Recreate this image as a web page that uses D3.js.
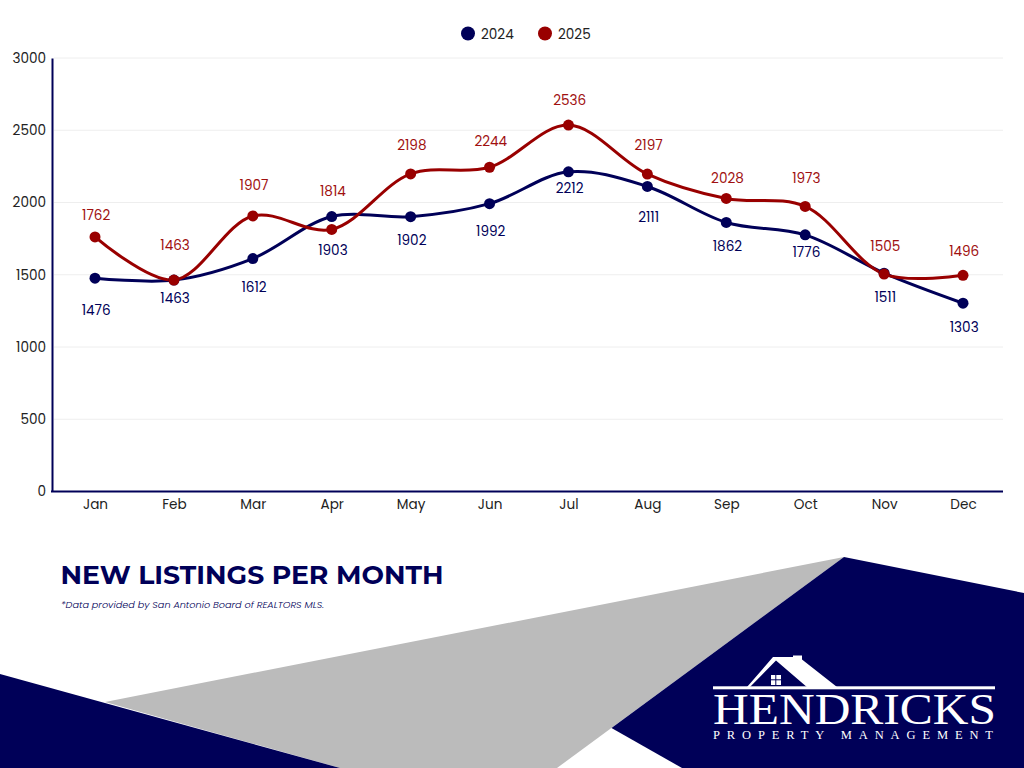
<!DOCTYPE html>
<html><head><meta charset="utf-8">
<script src="https://cdn.jsdelivr.net/npm/d3@7"></script>
<style>html,body{margin:0;padding:0;background:#fff}svg{display:block}</style></head>
<body><svg id="c" width="1024" height="768"></svg>
<script>
const months=["Jan","Feb","Mar","Apr","May","Jun","Jul","Aug","Sep","Oct","Nov","Dec"];
const values2024=[1476,1463,1612,1903,1902,1992,2212,2111,1862,1776,1511,1303];
const values2025=[1762,1463,1907,1814,2198,2244,2536,2197,2028,1973,1505,1496];
const labelOffset2024=[32,18,28,33,23,27,16,30,23,17,24,24];
const labelOffset2025=[22,35,31,39,29,27,25,29,21,29,28,25];
const yTicks=[0,500,1000,1500,2000,2500,3000];
const navy="#000058",red="#990000",gray="#bbbbbb";
const body="Poppins, Inter, sans-serif";
const svg=d3.select("#c");

const shape=(pts,fill)=>svg.append("polygon").attr("points",pts.map(p=>p.join(",")).join(" ")).attr("fill",fill);
shape([[105,702],[844,557],[557,768],[340,768]],gray);
shape([[0,674],[340,768],[0,768]],navy);
shape([[844,557],[1024,593],[1024,768],[682,768],[611.5,728]],navy);

const x=d3.scalePoint().domain(months).range([95,963]);
const y=d3.scaleLinear().domain([0,3000]).range([491.5,58]);

svg.append("g").selectAll("line").data(yTicks.slice(1)).join("line")
 .attr("x1",54).attr("x2",1003).attr("y1",d=>y(d)).attr("y2",d=>y(d))
 .attr("stroke","#eeeeee").attr("stroke-width",1);

const ay=svg.append("g").attr("transform","translate(52,0)")
 .call(d3.axisLeft(y).tickValues(yTicks).tickSize(0).tickPadding(6).tickFormat(d3.format("d")));
ay.select(".domain").attr("stroke",navy).attr("stroke-width",2);
ay.selectAll("text").attr("font-family",body).attr("font-size",13.6).attr("fill","#222");
const ax=svg.append("g").attr("transform","translate(0,491.5)")
 .call(d3.axisBottom(x).tickSize(0).tickPadding(7.5));
ax.select(".domain").attr("d","M51,0H1003").attr("stroke",navy).attr("stroke-width",2);
ax.selectAll("text").attr("font-family",body).attr("font-size",13.6).attr("fill","#222");

const line=d3.line().x((d,i)=>x(months[i])).y(d=>y(d)).curve(d3.curveCatmullRom.alpha(0.5));
const series=[
 {v:values2024,c:navy,o:labelOffset2024,s:1},
 {v:values2025,c:red,o:labelOffset2025,s:-1}];
series.forEach(S=>{
 svg.append("path").attr("d",line(S.v)).attr("fill","none").attr("stroke",S.c).attr("stroke-width",3);
});
series.forEach(S=>{
 svg.append("g").selectAll("circle").data(S.v).join("circle")
  .attr("cx",(d,i)=>x(months[i])).attr("cy",d=>y(d)).attr("r",5.5).attr("fill",S.c);
 svg.append("g").selectAll("text").data(S.v).join("text")
  .attr("x",(d,i)=>x(months[i])+1.2).attr("y",(d,i)=>y(d)+S.s*S.o[i]+0.5)
  .attr("dy","0.35em").attr("text-anchor","middle")
  .attr("font-family",body).attr("font-size",13.6).attr("fill",S.c==red?"#a01010":navy).text(d=>d);
});

[["2024",navy,468],["2025",red,545]].forEach(([t,c,cx])=>{
 svg.append("circle").attr("cx",cx).attr("cy",33.5).attr("r",7).attr("fill",c);
 svg.append("text").attr("x",cx+13).attr("y",34.3).attr("dy","0.35em").attr("font-family",body).attr("font-size",13.6).attr("fill","#222").text(t);
});

svg.append("text").attr("x",60.5).attr("y",584).attr("font-family","Montserrat, Inter, sans-serif").attr("font-weight",700)
 .attr("font-size",26).attr("textLength",383).attr("lengthAdjust","spacingAndGlyphs").attr("fill",navy).text("NEW LISTINGS PER MONTH");
svg.append("text").attr("x",61).attr("y",608).attr("font-family",body).attr("font-style","italic").attr("font-weight",300)
 .attr("font-size",9.5).attr("textLength",263).attr("lengthAdjust","spacingAndGlyphs").attr("fill",navy).text("*Data provided by San Antonio Board of REALTORS MLS.");

const logo=svg.append("g").attr("fill","#fff");
logo.append("rect").attr("x",713).attr("y",686.3).attr("width",282).attr("height",3);
logo.append("path").attr("d","M747,687L773,657L793,657L793,655.5L802,655.5L802,659.5L837,687L808,688L776,660.5L749,688Z");
logo.append("rect").attr("x",771).attr("y",675).attr("width",10).attr("height",10);
logo.append("path").attr("d","M775.8,675V685M771,679.8H781").attr("stroke",navy).attr("stroke-width",1);
logo.append("text").attr("x",713).attr("y",724).attr("font-family","Liberation Serif, serif").attr("font-size",45)
 .attr("textLength",283).attr("lengthAdjust","spacingAndGlyphs").text("HENDRICKS");
logo.append("text").attr("x",713).attr("y",738.5).attr("font-family","Liberation Serif, serif").attr("font-size",12.5)
 .attr("textLength",280).attr("lengthAdjust","spacing").text("PROPERTY MANAGEMENT");
</script></body></html>
